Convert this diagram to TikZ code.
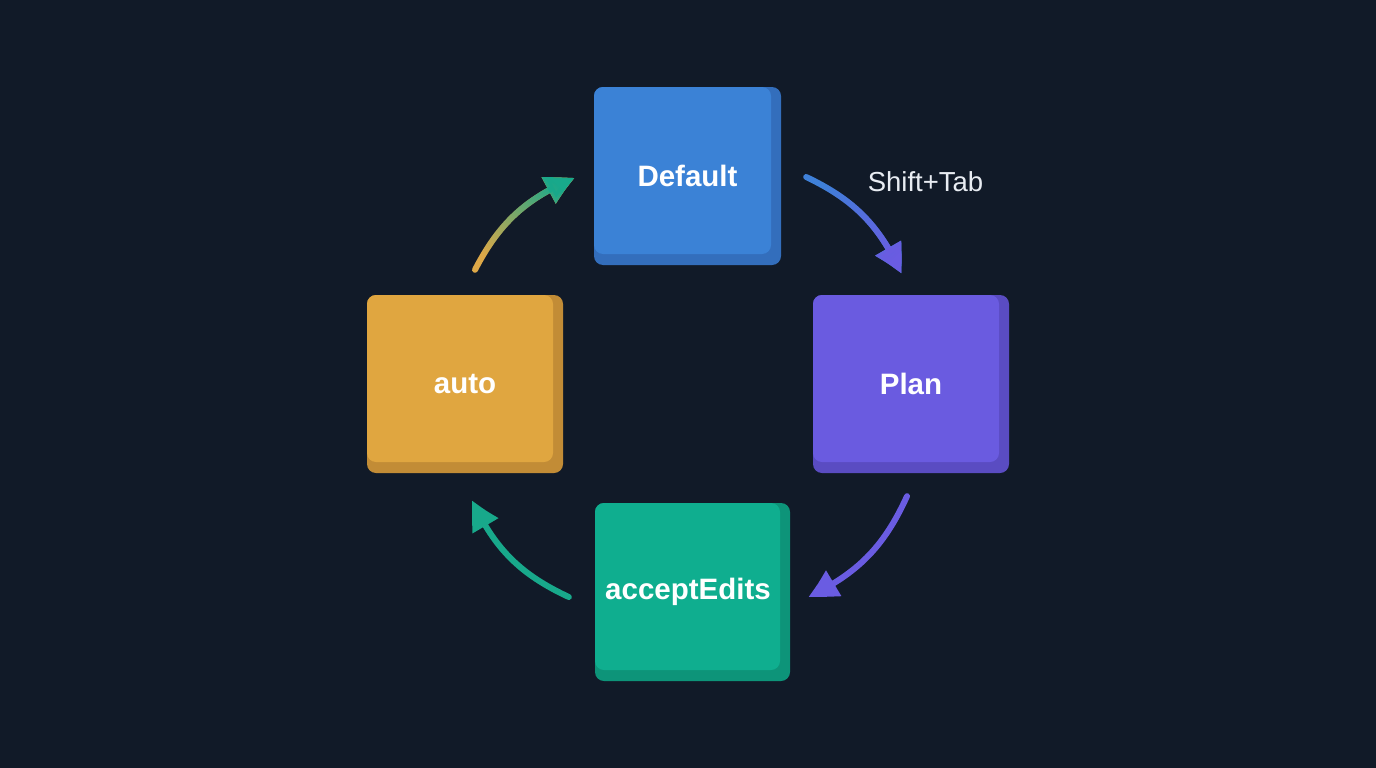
\documentclass[tikz,border=0pt]{standalone}
\usepackage{fontspec}
\setmainfont{Liberation Sans}
\usetikzlibrary{arrows.meta,fadings,bending}
\definecolor{bg}{HTML}{111A28}
\definecolor{deff}{HTML}{3B82D6}
\definecolor{defd}{HTML}{336EBC}
\definecolor{planf}{HTML}{6A5BE0}
\definecolor{pland}{HTML}{5A4CC2}
\definecolor{autof}{HTML}{E0A640}
\definecolor{autod}{HTML}{C28C36}
\definecolor{accf}{HTML}{0FAE8F}
\definecolor{accd}{HTML}{0D9479}
\definecolor{arrblue}{HTML}{3F80D8}
\definecolor{arrpurple}{HTML}{6A5CE2}
\definecolor{arrteal}{HTML}{18A98B}
\definecolor{arrorange}{HTML}{DDA848}
\definecolor{labelc}{HTML}{E8ECF2}
\tikzfading[name=fadeeast, left color=transparent!100, right color=transparent!0]
\tikzset{
  card/.style n args={2}{fill=#2, rounded corners=9pt, text=white,
    font=\bfseries\fontsize{29.5}{34}\selectfont, inner sep=0pt,
    path picture={\fill[#1, rounded corners=9pt] (path picture bounding box.north west)
      rectangle ([shift={(-10pt,11pt)}]path picture bounding box.south east);}},
  cyc/.style={line width=6pt, line cap=round,
    -{Triangle[length=30pt,width=28pt,bend]}},
  keylabel/.style={text=labelc, font=\fontsize{27.5}{32}\selectfont, inner sep=0pt}
}
\begin{document}
\begin{tikzpicture}[x=1pt,y=-1pt]
\fill[bg] (0,0) rectangle (1376,768);
\useasboundingbox (0,0) rectangle (1376,768);

\node[card={deff}{defd}, minimum width=187pt, minimum height=178pt] (default) at (687.5,176) {Default};
\node[card={planf}{pland}, minimum width=196pt, minimum height=178pt] (plan) at (911,384) {Plan};
\node[card={autof}{autod}, minimum width=196pt, minimum height=178pt] (auto) at (465,384) {auto};
\node[card={accf}{accd}, minimum width=195pt, minimum height=178pt, text width=195pt, align=center, xshift=0pt] (accept) at (692.5,592) {\hspace*{-9pt}acceptEdits};

\node[keylabel] (shift) at (925.5,182) {Shift+Tab};

% Default -> Plan (blue to purple)
\draw[cyc, arrblue] ([shift={(25pt,-1pt)}]default.east) to[bend left=20] ([shift={(-9.5pt,21pt)}]plan.north);
\draw[cyc, arrpurple, path fading=fadeeast, fading angle=-45] ([shift={(25pt,-1pt)}]default.east) to[bend left=20] ([shift={(-9.5pt,21pt)}]plan.north);

% Plan -> acceptEdits
\draw[cyc, arrpurple] ([shift={(-4pt,-23pt)}]plan.south) to[bend left=20] ([shift={(18pt,-5pt)}]accept.east);

% acceptEdits -> auto
\draw[cyc, arrteal] ([shift={(-26pt,-5pt)}]accept.west) to[bend left=20] ([shift={(7pt,-27pt)}]auto.south);

% auto -> Default (orange to teal)
\draw[cyc, arrorange] ([shift={(10pt,25pt)}]auto.north) to[bend left=20] ([shift={(-19pt,-2pt)}]default.west);
\draw[cyc, arrteal, path fading=fadeeast, fading angle=45] ([shift={(10pt,25pt)}]auto.north) to[bend left=20] ([shift={(-19pt,-2pt)}]default.west);
\end{tikzpicture}
\end{document}
